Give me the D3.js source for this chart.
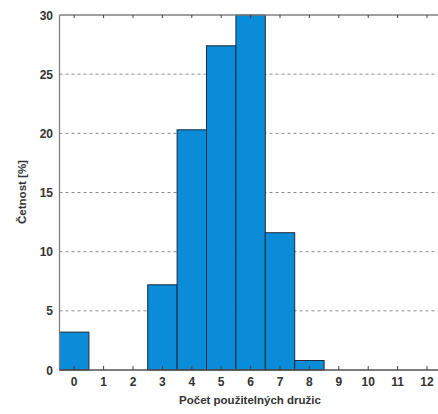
<!DOCTYPE html>
<html>
<head>
<meta charset="utf-8">
<script src="https://cdn.jsdelivr.net/npm/d3@7"></script>
<style>
  html, body { margin: 0; padding: 0; background: #fff; }
  svg { display: block; font-family: "Liberation Sans", Arial, sans-serif; }
</style>
</head>
<body>
<svg id="chart"></svg>
<script>
// ─── Data ──────────────────────────────────────────────────────────────────
const satCounts = [0, 1, 2, 3, 4, 5, 6, 7, 8, 9, 10, 11, 12];
const freqPct   = [3.2, 0, 0, 7.2, 20.3, 27.4, 30, 11.6, 0.8, 0, 0, 0, 0];
const yTicks    = [0, 5, 10, 15, 20, 25, 30];

// ─── Layout ────────────────────────────────────────────────────────────────
const W = 438, H = 414;
const X0 = 59.5, Y0 = 15, Y1 = 370;
const STEP = 29.4;

const svg = d3.select("#chart").attr("width", W).attr("height", H);

const x = d3.scaleLinear().domain([-0.5, 12.5]).range([X0, X0 + 13 * STEP]);
const y = d3.scaleLinear().domain([0, 30]).range([Y1, Y0]);

// grid (dashed)
svg.append("g").selectAll("line")
  .data(yTicks.filter(v => v > 0 && v < 30))
  .join("line")
  .attr("x1", X0).attr("x2", W)
  .attr("y1", d => y(d)).attr("y2", d => y(d))
  .attr("stroke", "#8a8a8a").attr("stroke-width", 1)
  .attr("stroke-dasharray", "3,3");

// bars
svg.append("g").selectAll("rect")
  .data(satCounts.map((k, i) => ({ k, v: freqPct[i] })).filter(d => d.v > 0))
  .join("rect")
  .attr("x", d => x(d.k - 0.5))
  .attr("y", d => y(d.v))
  .attr("width", STEP)
  .attr("height", d => y(0) - y(d.v))
  .attr("fill", "#0a8cd8")
  .attr("stroke", "#1c2a3c").attr("stroke-width", 1);

// axes frame
svg.append("line").attr("x1", X0).attr("x2", W).attr("y1", Y0).attr("y2", Y0)
  .attr("stroke", "#808080").attr("stroke-width", 1.3);
svg.append("line").attr("x1", X0).attr("x2", X0).attr("y1", Y0).attr("y2", Y1)
  .attr("stroke", "#808080").attr("stroke-width", 1.3);
svg.append("line").attr("x1", X0).attr("x2", W).attr("y1", Y1).attr("y2", Y1)
  .attr("stroke", "#505050").attr("stroke-width", 1.3);

// inward x ticks top and bottom
const xt = svg.append("g").attr("stroke", "#404040").attr("stroke-width", 1);
satCounts.forEach(k => {
  xt.append("line").attr("x1", x(k)).attr("x2", x(k)).attr("y1", Y1).attr("y2", Y1 - 4);
  xt.append("line").attr("x1", x(k)).attr("x2", x(k)).attr("y1", Y0).attr("y2", Y0 + 3);
});

// x tick labels
svg.append("g").selectAll("text")
  .data(satCounts).join("text")
  .attr("x", d => x(d)).attr("y", 386)
  .attr("text-anchor", "middle")
  .attr("font-size", 12).attr("font-weight", "bold").attr("fill", "#333")
  .text(d => d);

// y tick labels
svg.append("g").selectAll("text")
  .data(yTicks).join("text")
  .attr("x", 53).attr("y", d => y(d) + 4.5)
  .attr("text-anchor", "end")
  .attr("font-size", 12).attr("font-weight", "bold").attr("fill", "#333")
  .text(d => d);

// axis titles
svg.append("text")
  .attr("x", 250).attr("y", 404)
  .attr("text-anchor", "middle")
  .attr("font-size", 11.5).attr("font-weight", "bold").attr("fill", "#333")
  .text("Počet použitelných družic");

svg.append("text")
  .attr("transform", "translate(26,192) rotate(-90)")
  .attr("text-anchor", "middle")
  .attr("font-size", 11.5).attr("font-weight", "bold").attr("fill", "#333")
  .text("Četnost [%]");
</script>
</body>
</html>
